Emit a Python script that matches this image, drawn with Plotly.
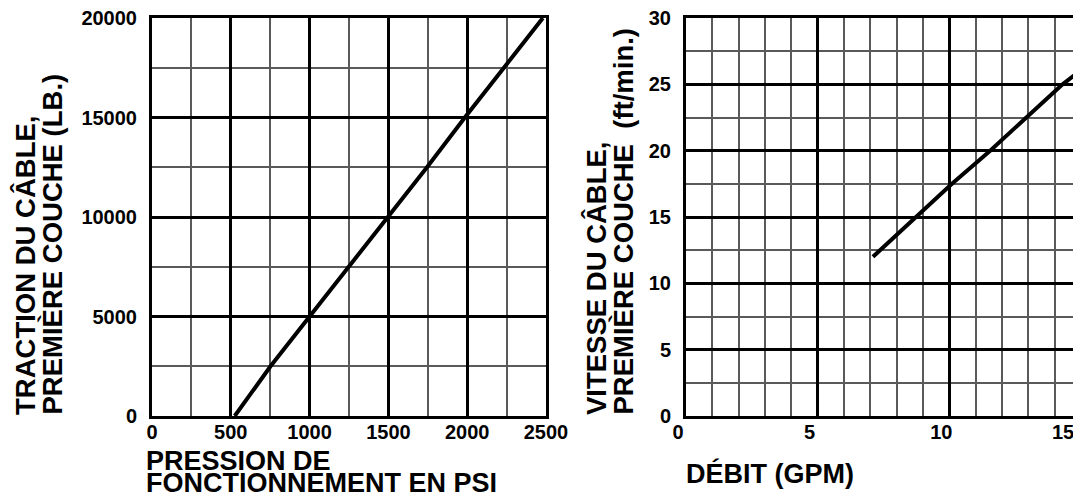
import plotly.graph_objects as go

# ---- data ----
pressure_psi = [525, 752, 1000, 1250, 1500, 1745, 1985, 2230, 2480]
pull_lb = [0, 2500, 5000, 7500, 10000, 12500, 15000, 17500, 20000]

flow_gpm = [7.1, 8.75, 10.1, 11.55, 12.95, 14.3, 14.95]
speed_fpm = [12.0, 15.0, 17.5, 20.0, 22.5, 25.0, 26.0]

left_xticks = [0, 500, 1000, 1500, 2000, 2500]
left_yticks = [0, 5000, 10000, 15000, 20000]
right_xticks = [0, 5, 10, 15]
right_xticktext = ["0", "5", "10", "15\u2003"]
right_yticks = [0, 5, 10, 15, 20, 25, 30]

left_ytitle = ["TRACTION DU CÂBLE,", "PREMIÈRE COUCHE (LB.)"]
left_xtitle = ["PRESSION DE", "FONCTIONNEMENT EN PSI"]
right_ytitle = ["VITESSE DU CÂBLE,", "PREMIÈRE COUCHE \u00a0(ft/min.)"]
right_xtitle = "DÉBIT (GPM)"

# ---- layout geometry (page body has an 8px margin) ----
OFF = 8
W, H = 1081 - OFF, 497 - OFF
FONT = "Liberation Sans, Arial, Helvetica, sans-serif"


def px(x):
    return (x - OFF) / W


def py(y):
    return 1 - (y - OFF) / H


y_dom = [py(416), py(18)]
left_dom = [px(152), px(546)]
right_dom = [px(686), 1.0]

tickfont = dict(family=FONT, size=20, color="black", weight="bold")


def axis(domain, rng, ticks, minor_dtick, anchor, standoff, shift=0,
         ticktext=None, mirror=True):
    return dict(
        domain=domain, range=rng, anchor=anchor,
        tickmode="array", tickvals=ticks,
        ticktext=ticktext if ticktext else [str(t) for t in ticks],
        showgrid=True, gridcolor="black", gridwidth=2.6,
        minor=dict(dtick=minor_dtick, tick0=0, showgrid=True,
                   gridcolor="#5a5a5a", gridwidth=1.5),
        showline=True, mirror=mirror, linecolor="black", linewidth=3,
        zeroline=False, ticks="", tickfont=tickfont,
        ticklabelstandoff=standoff, ticklabelshift=shift,
        ticklabeloverflow="allow",
        fixedrange=True,
    )


fig = go.Figure()
fig.add_trace(go.Scatter(x=pressure_psi, y=pull_lb, mode="lines",
                         line=dict(color="black", width=4),
                         xaxis="x", yaxis="y", showlegend=False,
                         hoverinfo="skip"))
fig.add_trace(go.Scatter(x=flow_gpm, y=speed_fpm, mode="lines",
                         line=dict(color="black", width=4),
                         xaxis="x2", yaxis="y2", showlegend=False,
                         hoverinfo="skip"))

title_font = dict(family=FONT, size=27, color="black", weight="bold")
ytitle_font = dict(family=FONT, size=27.5, color="black", weight="bold")
annotations = []
# rotated y titles (two tight lines each)
for txt, xc in zip(left_ytitle, [25.5, 52]):
    annotations.append(dict(text=txt, x=px(xc), y=py(416), xref="paper",
                            yref="paper", xanchor="center", yanchor="bottom",
                            textangle=-90, showarrow=False, font=ytitle_font,
                            borderpad=0))
for txt, xc in zip(right_ytitle, [596, 623]):
    annotations.append(dict(text=txt, x=px(xc), y=py(416), xref="paper",
                            yref="paper", xanchor="center", yanchor="bottom",
                            textangle=-90, showarrow=False, font=ytitle_font,
                            borderpad=0))
for txt, yc in zip(left_xtitle, [460.5, 482.5]):
    annotations.append(dict(text=txt, x=px(145), y=py(yc), xref="paper",
                            yref="paper", xanchor="left", yanchor="middle",
                            showarrow=False, font=title_font, borderpad=0))
annotations.append(dict(text=right_xtitle, x=px(685), y=py(473),
                        xref="paper", yref="paper", xanchor="left",
                        yanchor="middle", showarrow=False, font=title_font,
                        borderpad=0))

fig.update_layout(
    width=W, height=H,
    margin=dict(l=0, r=0, t=0, b=0, autoexpand=False),
    paper_bgcolor="white", plot_bgcolor="white",
    xaxis=axis(left_dom, [0, 2500], left_xticks, 250, "y", -4),
    yaxis=axis(y_dom, [0, 20000], left_yticks, 2500, "x", 8),
    xaxis2=axis(right_dom, [0, 15], right_xticks, 1, "y2", -4, -8,
                right_xticktext),
    yaxis2=axis(y_dom, [0, 30], right_yticks, 2.5, "x2", 8, mirror=False),
    annotations=annotations,
    showlegend=False,
)

fig.write_html("out.html")
